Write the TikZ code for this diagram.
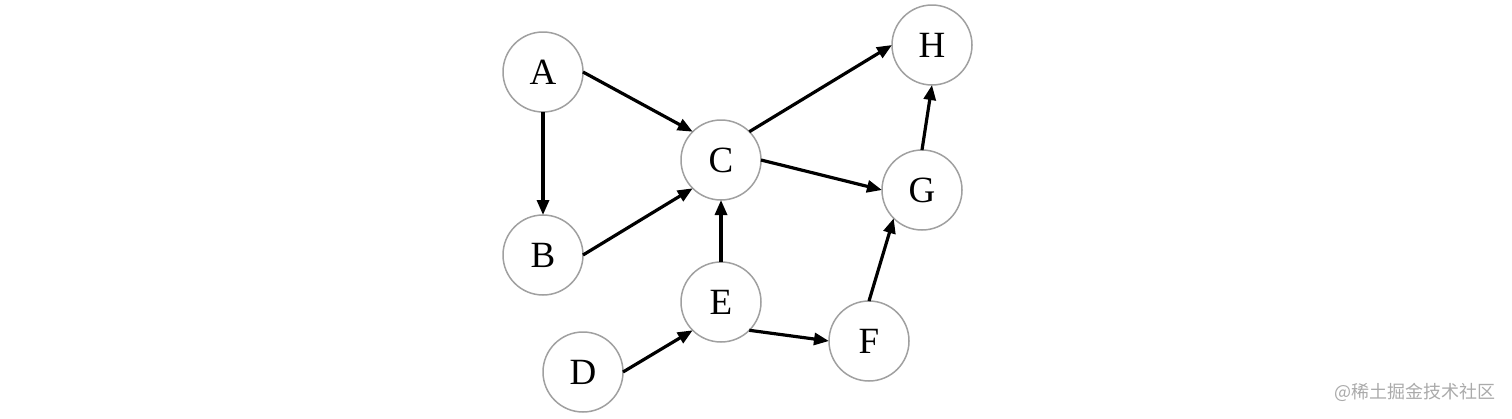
\documentclass[tikz,border=0pt]{standalone}
\usepackage{fontspec}
\newfontfamily\cjk{Noto Sans CJK SC}
\newfontfamily\lblfont{Liberation Serif}
\usetikzlibrary{arrows.meta}
\definecolor{ringgray}{HTML}{A0A0A0}
\definecolor{wmgray}{HTML}{AAAAAA}
\begin{document}
\begin{tikzpicture}[x=1pt,y=-1pt,
  vertex/.style={circle,draw=ringgray,line width=1.5pt,minimum size=80pt,inner sep=0pt,outer sep=0pt,font=\lblfont\fontsize{37}{40}\selectfont},
  edge/.style={line width=3.2pt,-{Triangle[length=15pt,width=12pt]}}]
\useasboundingbox (0,0) rectangle (1512,418);
\node[vertex] (A) at (543,72) {\raisebox{-2pt}{A}};
\node[vertex] (B) at (543,255) {\raisebox{-2pt}{B}};
\node[vertex] (C) at (721,160) {\raisebox{-2pt}{C}};
\node[vertex] (D) at (583,372) {\raisebox{-2pt}{D}};
\node[vertex] (E) at (721,302) {\raisebox{-2pt}{E}};
\node[vertex] (F) at (869,341) {\raisebox{-2pt}{F}};
\node[vertex] (G) at (922,190) {\raisebox{-2pt}{G}};
\node[vertex] (H) at (932,45) {\raisebox{-2pt}{H}};
\draw[edge] (A.east) -- (C.north west);
\draw[edge] (A.south) -- (B.north);
\draw[edge] (B.east) -- (C.south west);
\draw[edge] (C.north east) -- (H.west);
\draw[edge] (C.east) -- (G.west);
\draw[edge] (E.north) -- (C.south);
\draw[edge] (D.east) -- (E.south west);
\draw[edge] (E.south east) -- (F.west);
\draw[edge] (F.north) -- (G.south west);
\draw[edge] (G.north) -- (H.south);
\node[anchor=east,text=wmgray,font=\cjk\fontsize{18}{20}\selectfont,inner sep=0pt] (wm) at (1496,392) {@稀土掘金技术社区};
\end{tikzpicture}
\end{document}
